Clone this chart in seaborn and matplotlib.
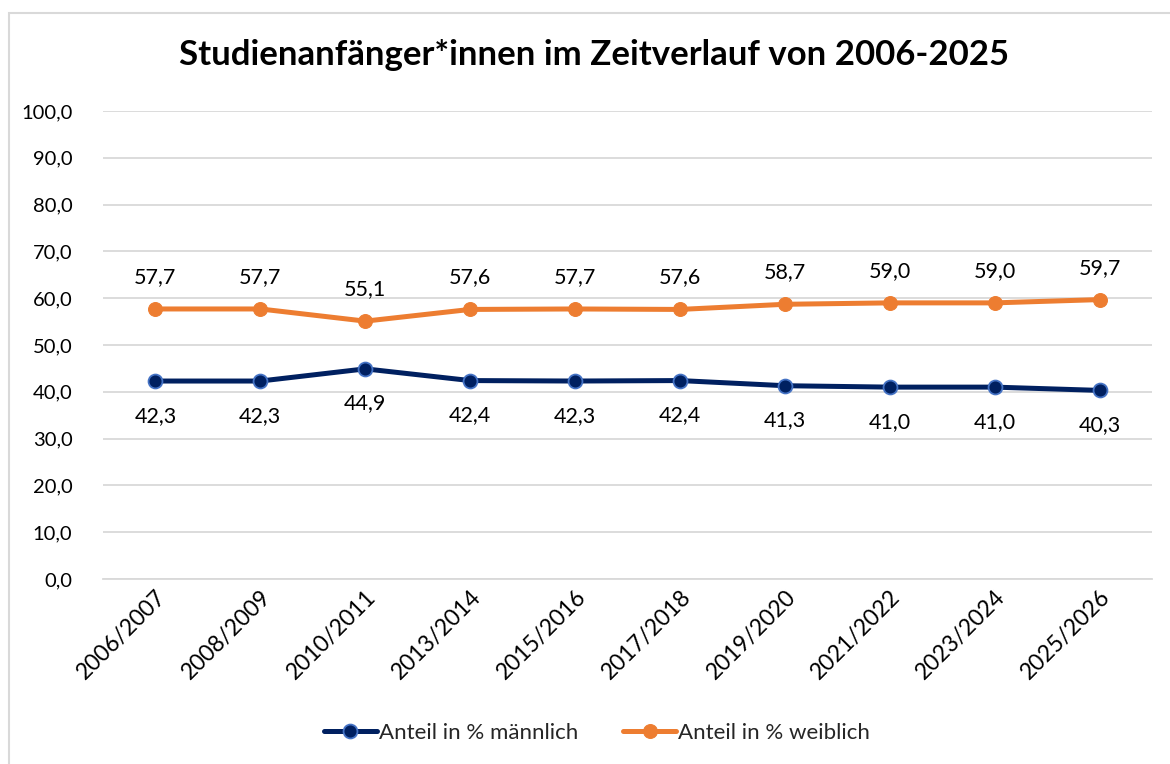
import pandas as pd
import matplotlib.pyplot as plt
import seaborn as sns
from matplotlib.ticker import FuncFormatter
from matplotlib.patches import Rectangle

#Daten
semester = ['2006/2007', '2008/2009', '2010/2011', '2013/2014', '2015/2016',
            '2017/2018', '2019/2020', '2021/2022', '2023/2024', '2025/2026']
maennlich = [42.3, 42.3, 44.9, 42.4, 42.3, 42.4, 41.3, 41.0, 41.0, 40.3]
weiblich = [57.7, 57.7, 55.1, 57.6, 57.7, 57.6, 58.7, 59.0, 59.0, 59.7]

df = pd.DataFrame({'semester': semester, 'maennlich': maennlich, 'weiblich': weiblich})

sns.set_theme(style='white')
plt.rcParams['font.family'] = ['Lato', 'DejaVu Sans']

W, H = 1170, 764
fig = plt.figure(figsize=(W / 100, H / 100), dpi=100)
ax = fig.add_axes([103 / W, 1 - 579 / H, (1152 - 103) / W, (579 - 111) / H])

# Rahmen wie im Excel-Diagramm
fig.patches.append(Rectangle((8.5 / W, -0.1), 1.2, 1 - 13.5 / H + 0.1, transform=fig.transFigure,
                             fill=False, edgecolor='#d9d9d9', linewidth=1.5))

blau = '#002060'
orange = '#ED7D31'

sns.lineplot(data=df, x='semester', y='maennlich', ax=ax, color=blau, linewidth=3.6, sort=False,
             marker='o', markersize=10, markerfacecolor=blau, markeredgecolor='#4472C4',
             markeredgewidth=1.3, label='Anteil in % männlich')
sns.lineplot(data=df, x='semester', y='weiblich', ax=ax, color=orange, linewidth=3.6, sort=False,
             marker='o', markersize=10, markerfacecolor=orange, markeredgecolor=orange,
             label='Anteil in % weiblich')

# Datenbeschriftungen
for i, (m, w) in enumerate(zip(maennlich, weiblich)):
    ax.annotate(f'{m:.1f}'.replace('.', ','), (i, m), xytext=(0, -25), textcoords='offset points',
                ha='center', va='center', fontsize=15.5, color='black')
    ax.annotate(f'{w:.1f}'.replace('.', ','), (i, w), xytext=(0, 23), textcoords='offset points',
                ha='center', va='center', fontsize=15.5, color='black')

ax.set_ylim(0, 100)
ax.set_yticks(range(0, 101, 10))
ax.yaxis.set_major_formatter(FuncFormatter(lambda v, p: f'{v:.1f}'.replace('.', ',')))
ax.set_xlim(-0.5, len(semester) - 0.5)
ax.grid(axis='y', color='#d9d9d9', linewidth=1.3)
ax.set_axisbelow(True)
for s in ['top', 'right', 'left']:
    ax.spines[s].set_visible(False)
ax.spines['bottom'].set_color('#d9d9d9')
ax.spines['bottom'].set_linewidth(1.3)

ax.tick_params(axis='y', labelsize=14.5, length=0, pad=22, labelcolor='black')
ax.tick_params(axis='x', labelsize=16.5, length=0, pad=5, labelcolor='black')
plt.setp(ax.get_xticklabels(), rotation=45, ha='right', rotation_mode='anchor')
ax.set_xlabel('')
ax.set_ylabel('')

fig.suptitle('Studienanfänger*innen im Zeitverlauf von 2006-2025', x=0.508, y=1 - 55 / H,
             va='center', fontsize=25, fontweight='bold', color='black')

ax.legend(loc='center', bbox_to_anchor=((597 - 103) / (1152 - 103), (579 - 733) / (579 - 111)),
          ncol=2, frameon=False, fontsize=16, handlelength=2.4, handletextpad=0.1, columnspacing=2.0)

fig.savefig('out.png', dpi=100, facecolor='white')
